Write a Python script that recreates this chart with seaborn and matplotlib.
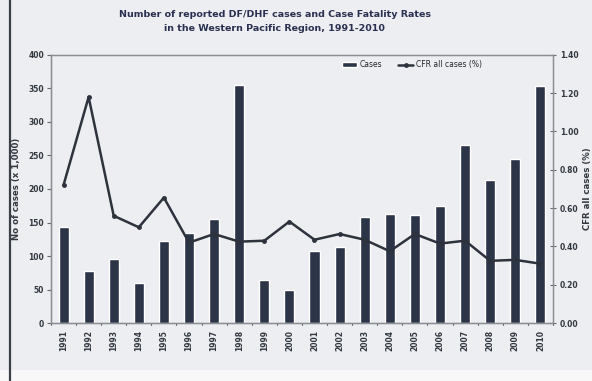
import numpy as np
import pandas as pd
import matplotlib
matplotlib.use("Agg")
import matplotlib.pyplot as plt
import seaborn as sns
from matplotlib.lines import Line2D
from matplotlib.patches import Rectangle

years = [str(y) for y in range(1991, 2011)]
cases = [143, 78, 95, 60, 123, 135, 155, 355, 65, 49,
         107, 113, 158, 162, 161, 174, 266, 214, 244, 353]
cfr = [0.72, 1.18, 0.56, 0.50, 0.655, 0.42, 0.465, 0.425, 0.43, 0.53,
       0.435, 0.465, 0.435, 0.375, 0.465, 0.415, 0.43, 0.325, 0.33, 0.31]
left_ticks = [0, 50, 100, 150, 200, 250, 300, 350, 400]
right_ticks = [0.0, 0.2, 0.4, 0.6, 0.8, 1.0, 1.2, 1.4]

df = pd.DataFrame({"year": years, "cases": cases, "cfr": cfr})

sns.set_theme(style="white")
plt.rcParams["font.family"] = ["DejaVu Sans"]

bg = "#eceef1"
navy = "#2c3447"
fig = plt.figure(figsize=(5.92, 3.81), dpi=100, facecolor=bg)
ax = fig.add_axes([0.0861, 0.152, 0.8479, 0.704])
ax.set_facecolor(bg)

sns.barplot(data=df, x="year", y="cases", color=navy, width=0.4,
            saturation=1, ax=ax, label="Cases", zorder=2)
ax.set_ylim(0, 400)
ax.set_yticks(left_ticks)
ax.set_yticklabels([str(t) for t in left_ticks], fontsize=5.5,
                   fontweight="bold", color="#333840")
ax.set_xlim(-0.5, len(years) - 0.5)
ax.set_xticks(range(len(years)))
ax.set_xticklabels(years, rotation=90, fontsize=5.5, fontweight="bold",
                   color="#333840")
ax.set_xlabel("")
ax.set_ylabel("No of cases (x 1,000)", fontsize=6.2, fontweight="bold",
              color="#333840", labelpad=5)
ax.tick_params(axis="y", direction="out", length=3, width=0.8,
               color="#666a70", pad=2)
ax.tick_params(axis="x", length=0, pad=5)
for x in np.arange(-0.5, len(years), 1.0):
    ax.plot([x, x], [0, -3], color="#666a70", lw=0.8, clip_on=False)

ax2 = ax.twinx()
xpos = np.arange(len(years))
sns.lineplot(x=xpos, y=df["cfr"].values, ax=ax2, color="#2d323d", lw=1.8,
             marker="o", markersize=3.5, markeredgewidth=0,
             label="CFR all cases (%)", zorder=3)
ax2.set_ylim(0, 1.4)
ax2.set_yticks(right_ticks)
ax2.set_yticklabels([f"{t:.2f}" for t in right_ticks], fontsize=5.5,
                    fontweight="bold", color="#333840")
ax2.set_ylabel("CFR all cases (%)", fontsize=6.2, fontweight="bold",
               color="#333840", labelpad=3)
ax2.tick_params(axis="y", direction="inout", length=4, width=0.8,
                color="#666a70", pad=3)
ax2.set_xlim(-0.5, len(years) - 0.5)

for a in (ax, ax2):
    for s in a.spines.values():
        s.set_color("#8a8e95")
        s.set_linewidth(0.9)
ax.spines["left"].set_color("#555a62")
ax.spines["bottom"].set_color("#555a62")

h1, l1 = ax.get_legend_handles_labels()
h2, l2 = ax2.get_legend_handles_labels()
if ax.get_legend():
    ax.get_legend().remove()
ax2.legend(h1 + h2, l1 + l2, loc="upper right", bbox_to_anchor=(0.87, 1.0),
           ncol=2, frameon=False, fontsize=5.5, handlelength=2.0,
           handleheight=0.6, columnspacing=2.0, handletextpad=0.4,
           borderaxespad=0.3)

fig.text(0.464, 0.961, "Number of reported DF/DHF cases and Case Fatality Rates",
         ha="center", va="center", fontsize=6.8, fontweight="bold",
         color="#2a3050")
fig.text(0.464, 0.926, "in the Western Pacific Region, 1991-2010",
         ha="center", va="center", fontsize=6.8, fontweight="bold",
         color="#2a3050")

fig.patches.append(Rectangle((0.0, 0.0), 1.0, 11 / 381, transform=fig.transFigure,
                             facecolor="#f8f8f9", edgecolor="none", zorder=-1))
fig.lines.append(Line2D([10 / 592, 10 / 592], [0, 1], transform=fig.transFigure,
                        color="#3a3f48", lw=1.6))

fig.savefig("out.png", dpi=100, facecolor=bg)
